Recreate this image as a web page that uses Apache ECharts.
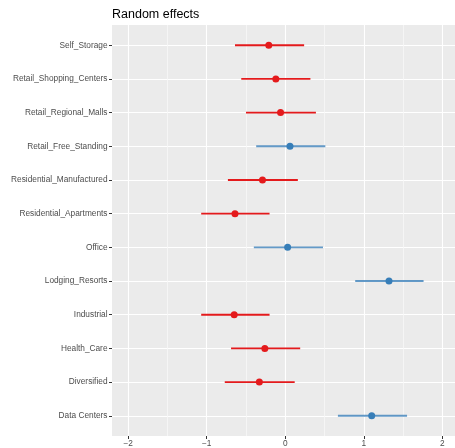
<!DOCTYPE html>
<html>
<head>
<meta charset="utf-8">
<script src="https://cdn.jsdelivr.net/npm/echarts@6/dist/echarts.min.js"></script>
<style>html,body{margin:0;padding:0;background:#fff}#c{width:455px;height:448px}</style>
</head>
<body>
<div id="c"></div>
<script>
// Categories from bottom to top
const categories = ['Data Centers','Diversified','Health_Care','Industrial','Lodging_Resorts','Office',
  'Residential_Apartments','Residential_Manufactured','Retail_Free_Standing','Retail_Regional_Malls',
  'Retail_Shopping_Centers','Self_Storage'];
const estimate = [1.10, -0.33, -0.26, -0.65, 1.32, 0.03, -0.64, -0.29, 0.06, -0.06, -0.12, -0.21];
const lower    = [0.67, -0.77, -0.69, -1.07, 0.89, -0.40, -1.07, -0.73, -0.37, -0.50, -0.56, -0.64];
const upper    = [1.55, 0.12, 0.19, -0.20, 1.76, 0.48, -0.20, 0.16, 0.51, 0.39, 0.32, 0.24];
const group    = ['pos','neg','neg','neg','pos','pos','neg','neg','pos','neg','neg','neg'];
const xMajorTicks = [-2, -1, 0, 1, 2];
const xMinorTicks = [-1.5, -0.5, 0.5, 1.5];

const palette = { neg: '#E41A1C', pos: '#377EB8' };
const lineOpacity = { neg: 1, pos: 0.78 };
const yIdx = categories.map((_, i) => i);

const segData = categories.map((c, i) => ({ value: [lower[i], upper[i], i] }));
const ptData = categories.map((c, i) => ({ value: [estimate[i], i], itemStyle: { color: palette[group[i]] } }));

const fontFam = 'Liberation Sans, Arial, Helvetica, sans-serif';
const chart = echarts.init(document.getElementById('c'), null, { renderer: 'canvas' });
chart.setOption({
  animation: false,
  backgroundColor: '#ffffff',
  title: {
    text: 'Random effects', left: 112, top: 8, padding: 0,
    textStyle: { fontFamily: fontFam, fontSize: 12.5, fontWeight: 'normal', color: '#000' }
  },
  grid: { left: 112, right: 0, top: 25, bottom: 12, show: true, backgroundColor: '#EBEBEB', borderWidth: 0 },
  xAxis: [{
    type: 'value', min: -2.205, max: 2.16,
    axisLine: { show: false, onZero: false },
    axisTick: { show: true, length: 3, lineStyle: { color: '#333333', width: 1 }, customValues: xMajorTicks },
    axisLabel: { customValues: xMajorTicks, margin: 4, fontSize: 8.3, color: '#4D4D4D', fontFamily: fontFam,
      formatter: v => (v < 0 ? '\u2212' + Math.abs(v) : String(v)) },
    splitLine: { show: true, lineStyle: { color: '#ffffff', width: 1.1 } }
  }, {
    type: 'value', min: -2.205, max: 2.16, position: 'bottom',
    axisLine: { show: false, onZero: false },
    axisTick: { show: false, customValues: xMinorTicks },
    axisLabel: { show: false, customValues: xMinorTicks },
    splitLine: { show: true, lineStyle: { color: '#F7F7F7', width: 0.8 } }
  }],
  yAxis: {
    type: 'value', min: -0.6, max: 11.6,
    axisLine: { show: false, onZero: false },
    axisTick: { show: true, length: 3, lineStyle: { color: '#333333', width: 1 }, customValues: yIdx },
    axisLabel: { customValues: yIdx, margin: 4.5, fontSize: 8.3, color: '#4D4D4D', fontFamily: fontFam,
      formatter: v => categories[Math.round(v)] },
    splitLine: { show: true, lineStyle: { color: '#ffffff', width: 1.1 } }
  },
  series: [{
    type: 'custom',
    xAxisIndex: 0,
    data: segData,
    encode: { x: [0, 1], y: 2 },
    renderItem: function (params, api) {
      const g = group[params.dataIndex];
      const p1 = api.coord([api.value(0), api.value(2)]);
      const p2 = api.coord([api.value(1), api.value(2)]);
      return { type: 'line', shape: { x1: p1[0], y1: p1[1], x2: p2[0], y2: p2[1] },
        style: { stroke: palette[g], lineWidth: 1.9, opacity: lineOpacity[g] } };
    }
  }, {
    type: 'scatter',
    xAxisIndex: 0,
    data: ptData,
    symbol: 'circle',
    symbolSize: 7,
    itemStyle: { opacity: 1 },
    z: 3
  }]
});
</script>
</body>
</html>
